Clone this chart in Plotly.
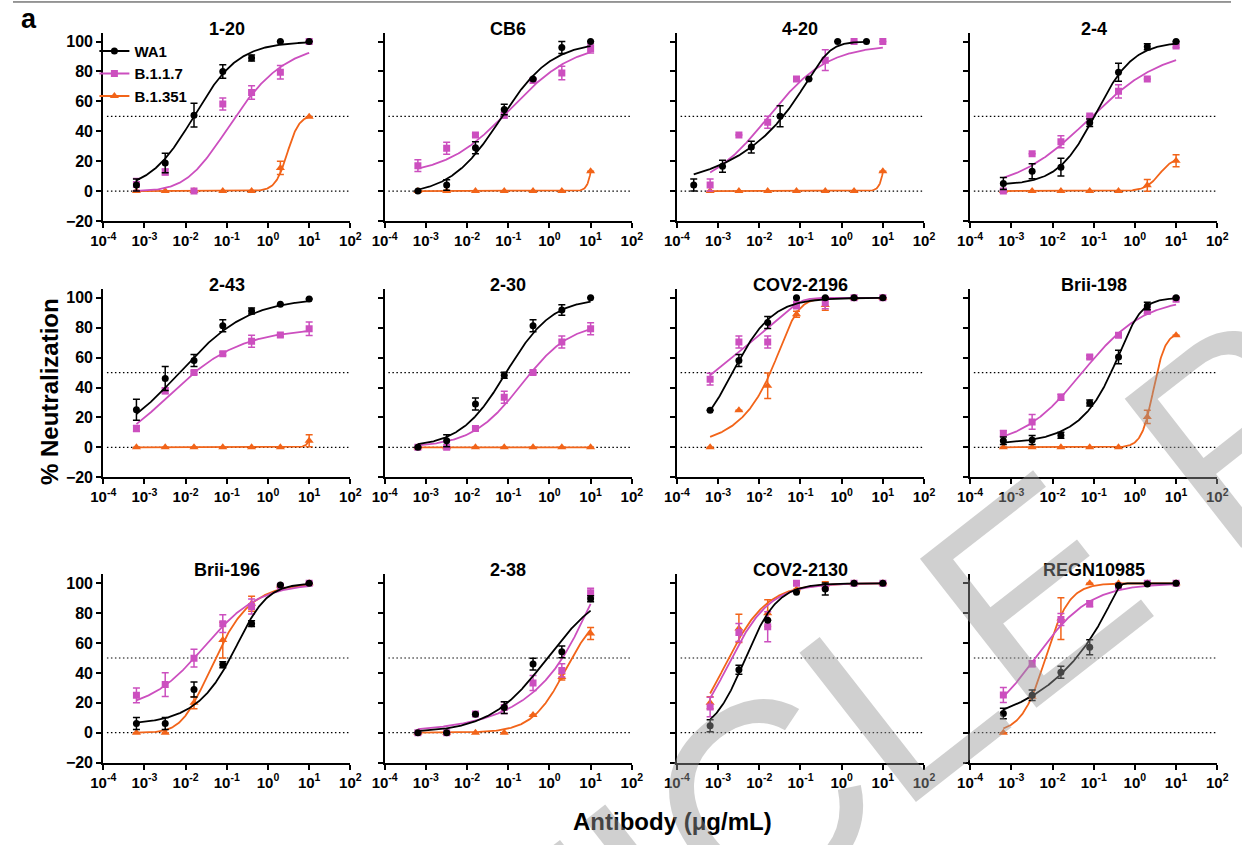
import numpy as np
import plotly.graph_objects as go

W, H = 1242, 845
FONT = "Liberation Sans, Arial, Helvetica, sans-serif"

CONC = [0.00064, 0.0032, 0.016, 0.08, 0.4, 2, 10]
CONC_420_WA1 = [0.000256, 0.00128, 0.0064, 0.032, 0.16, 0.8, 4]

PANELS = ["1-20", "CB6", "4-20", "2-4", "2-43", "2-30", "COV2-2196", "Brii-198",
          "Brii-196", "2-38", "COV2-2130", "REGN10985"]
SERIES = ["WA1", "B.1.1.7", "B.1.351"]
COLORS = ["#000000", "#CC4FBF", "#F26419"]
SYMBOLS = ["circle", "square", "triangle-up"]
MSIZE = [7, 7, 8]

XTICK_VALS = [1e-4, 1e-3, 1e-2, 1e-1, 1e0, 1e1, 1e2]
XTICK_TEXT = ["10<sup>-4</sup>", "10<sup>-3</sup>", "10<sup>-2</sup>", "10<sup>-1</sup>",
              "10<sup>0</sup>", "10<sup>1</sup>", "10<sup>2</sup>"]
YTICK_VALS = [-20, 0, 20, 40, 60, 80, 100]

# ---- measured values (% neutralization) ----
wa1_y = [
    [4, 18.8, 50.8, 80, 89, 100, 100],
    [0, 4, 29, 54.5, 75, 96, 100],
    [4, 16.6, 29.4, 50, 75, 100, 100],
    [5, 13.2, 16, 45.7, 79.5, 96.5, 100],
    [25.1, 46, 58.1, 81.3, 91.2, 95.8, 99.3],
    [0, 4.4, 29, 48.2, 81.3, 91.9, 100],
    [24.7, 58.1, 83.5, 100, 100, 100, 100],
    [4.4, 4.8, 8.1, 29.7, 60.4, 94.5, 100],
    [6.2, 6.2, 28.9, 45.5, 73, 98.9, 100],
    [0, 0, 12.4, 16.8, 45.9, 54.1, 89.6],
    [4.6, 42.2, 75.3, 94, 96.2, 100, 100],
    [12.8, 25, 40.4, 57.2, 98.5, 99.6, 100],
]
wa1_err = [
    [4, 6.5, 8, 4.5, 2, 0, 0],
    [0, 3.5, 4, 3.5, 0, 4, 0],
    [4, 4, 4, 7, 0, 0, 0],
    [4, 5, 6, 2.5, 6, 2, 0],
    [7, 8, 4, 4, 2, 0, 0],
    [0, 4, 4, 2, 4, 3.5, 0],
    [0, 4, 4, 0, 0, 0, 0],
    [2.5, 3, 2, 2, 4.5, 2.5, 0],
    [4, 4, 5, 2, 2, 0, 0],
    [0, 0, 0, 4, 4, 4, 2],
    [4, 3, 0, 0, 4, 0, 0],
    [3.5, 3.5, 4, 5, 0, 0, 0],
]
b117_y = [
    [4.4, 12.8, 0, 58.3, 66, 79.5, 100],
    [17, 28.7, 37.5, 50.8, 74, 79, 95.4],
    [4, 37.5, 46, 75, 87.6, 100, 100],
    [0, 25, 33, 50.3, 66.7, 75, 97],
    [12.6, 37.9, 50, 62.6, 71, 75.1, 79.3],
    [0, 0, 12.6, 33.5, 50, 70.5, 79.3],
    [45.6, 70.5, 70.5, 95.2, 96.7, 100, 100],
    [9.3, 17, 33.5, 60.4, 75, 91.2, 99],
    [25, 32.2, 49.9, 73, 84.5, 98, 100],
    [0, 0, 12.6, 16.8, 33.3, 41.7, 93.6],
    [17.2, 67.1, 70.9, 100, 97.4, 100, 100],
    [25.2, 46.1, 75.7, 86.3, 98, 100, 100],
]
b117_err = [
    [4, 2, 0, 4, 4.5, 4.5, 0],
    [4, 4, 1, 2, 0, 4.5, 3],
    [4, 0, 4, 0, 7, 0, 0],
    [0, 0, 4, 0, 4.5, 0, 1],
    [2, 2, 1, 1, 4, 1, 4.5],
    [0, 0, 1, 4, 1, 4, 4],
    [4, 4, 4, 2.5, 4, 0, 0],
    [2, 5, 2, 1, 1, 2, 0],
    [5, 8, 6, 6, 5, 0, 0],
    [0, 0, 0, 4, 5, 4.5, 3],
    [6.5, 6, 10, 0, 1, 0, 0],
    [5, 2, 4, 2, 0, 0, 0],
]
b1351_y = [
    [0, 0, 0, 0, 0, 15.5, 49.7],
    [0, 0, 0, 0, 0, 0, 13.2],
    [0, 0, 0, 0, 0, 0, 13.2],
    [0, 0, 0, 0, 0, 3.8, 20.3],
    [0, 0, 0, 0, 0, 0, 4.4],
    [0, 0, 0, 0, 0, 0, 0],
    [0, 24.7, 41.2, 89, 95.2, 100, 100],
    [0, 0, 0, 0, 0, 20.3, 75],
    [0, 0, 20.1, 62, 86.3, 98.5, 100],
    [0, 0, 0, 0, 11.9, 37.3, 66.4],
    [20.1, 69.8, 80, 96, 99, 100, 100],
    [0, 24, 76.4, 100, 100, 100, 100],
]
b1351_err = [
    [0, 0, 0, 0, 0, 4.4, 0],
    [0, 0, 0, 0, 0, 0, 0],
    [0, 0, 0, 0, 0, 0, 0],
    [0, 0, 0, 0, 0, 4, 4],
    [0, 0, 0, 0, 0, 0, 4],
    [0, 0, 0, 0, 0, 0, 0],
    [0, 0, 8.5, 2, 3.5, 0, 0],
    [0, 0, 0, 0, 0, 4.4, 0],
    [0, 0, 4, 12, 5, 0, 0],
    [0, 0, 0, 0, 0, 2, 4],
    [4, 9.5, 9, 0, 2, 0, 0],
    [0, 0, 14, 0, 0, 0, 0],
]

# ---- fitted dose-response parameters: [bottom, top, logEC50, hill, asymmetry] ----
wa1_fit = [
    [0, 100, -1.8, 0.8, 1], [-3, 100, -1.18, 0.7, 1], [0, 100, -0.42, 2, 0.15],
    [4, 100, -0.95, 0.95, 1], [0, 100, -2.15, 0.52, 1], [0, 100, -1.05, 0.78, 1],
    [0, 100, -2.65, 0.9, 1], [2, 100, -0.12, 1.8, 0.35], [5, 100, -0.5, 1.3, 0.5],
    [0, 100, -0.05, 0.62, 1], [-2, 100, -2.35, 1.1, 1], [0, 100, -0.38, 8, 0.036],
]
b117_fit = [
    [0, 100, -2.1, 0.55, 4], [10, 100, -0.95, 0.55, 1], [0, 98, -1.8, 0.6, 1],
    [0, 96, -1.12, 0.48, 1], [0, 80, -3.5, 0.45, 3], [0, 84, -0.68, 0.72, 1],
    [-200, 100, -1.0, 3, 0.0125], [0, 100, -1.28, 0.58, 1], [15, 100, -1.55, 0.65, 1],
    [0, 100, 1.12, 3, 0.125], [0, 100, -3.15, 0.8, 2], [0, 100, -2.42, 0.65, 1],
]
b1351_fit = [
    [0, 51, 0.47, 3, 1], [0, 100, 1.14, 6, 1], [0, 100, 1.14, 6, 1],
    [0, 23, 0.6, 2.5, 1], [0, 100, 1.22, 6, 1], [0, 0, 0, 1, 1],
    [0, 100, -1.24, 2.2, 0.27], [0, 77, 0.45, 3, 1], [0, 100, -2.18, 0.8, 4],
    [0, 85, 0.4, 1.05, 1], [0, 100, -3.22, 0.8, 2], [0, 100, -2.17, 1.5, 1],
]

# ---- layout geometry (pixels) ----
COL_X0 = [92, 379, 677, 976]
AX_W = 252
ROW_TOP = [33, 292, 580.5]
AX_H = 190.3


def curve(p, xmin, xmax):
    b, t, c, h, s = p
    lx = np.linspace(np.log10(xmin), np.log10(xmax), 300)
    y = b + (t - b) / (1.0 + 10.0 ** ((c - lx) * h)) ** s
    return 10.0 ** lx, y


fig = go.Figure()

# legend entries
for k in range(3):
    fig.add_trace(go.Scatter(x=[None], y=[None], mode="lines+markers", name=SERIES[k],
                             legendgroup=SERIES[k],
                             line=dict(color=COLORS[k], width=2),
                             marker=dict(symbol=SYMBOLS[k], size=MSIZE[k], color=COLORS[k]),
                             xaxis="x", yaxis="y", showlegend=True))

annotations = []
shapes = []
layout_axes = {}

for i, name in enumerate(PANELS):
    r, cidx = divmod(i, 4)
    sfx = "" if i == 0 else str(i + 1)
    xa, ya = "x" + sfx, "y" + sfx
    x0 = COL_X0[cidx]
    top = ROW_TOP[r]
    xd = [x0 / W, (x0 + AX_W) / W]
    yd = [1 - (top + AX_H) / H, 1 - top / H]

    layout_axes["xaxis" + sfx] = dict(
        domain=xd, anchor=ya, type="log", range=[-4, 2],
        tickvals=XTICK_VALS, ticktext=XTICK_TEXT, ticks="outside", ticklen=5, tickwidth=2,
        tickcolor="black", showline=True, linewidth=2, linecolor="black",
        showgrid=False, zeroline=False,
        tickfont=dict(family=FONT, size=15, color="black", weight="bold"))
    layout_axes["yaxis" + sfx] = dict(
        domain=yd, anchor=xa, range=[-20, 106], tickvals=YTICK_VALS,
        ticks="outside", ticklen=5, tickwidth=2, tickcolor="black",
        showline=True, linewidth=2, linecolor="black", showgrid=False, zeroline=False,
        showticklabels=(cidx == 0),
        tickfont=dict(family=FONT, size=16, color="black", weight="bold"))

    for yv in (50, 0):
        shapes.append(dict(type="line", xref=xa + " domain", yref=ya, x0=0.015, x1=1,
                           y0=yv, y1=yv, line=dict(color="black", width=1.2, dash="1.5px,2.5px"),
                           layer="below"))

    annotations.append(dict(text=name, xref="paper", yref="paper",
                            x=(x0 + AX_W / 2) / W, y=1 - (top - 4) / H,
                            xanchor="center", yanchor="middle", showarrow=False,
                            font=dict(family=FONT, size=18, color="black", weight="bold")))

    data = [
        (wa1_y[i], wa1_err[i], wa1_fit[i], CONC_420_WA1 if name == "4-20" else CONC),
        (b117_y[i], b117_err[i], b117_fit[i], CONC),
        (b1351_y[i], b1351_err[i], b1351_fit[i], CONC),
    ]
    for k in (2, 1, 0):
        yv, ev, fp, xs = data[k]
        cx, cy = curve(fp, min(xs), max(xs))
        fig.add_trace(go.Scatter(x=cx, y=cy, mode="lines", xaxis=xa, yaxis=ya,
                                 line=dict(color=COLORS[k], width=1.8), showlegend=False,
                                 hoverinfo="skip"))
        fig.add_trace(go.Scatter(x=xs, y=yv, mode="markers", xaxis=xa, yaxis=ya,
                                 marker=dict(symbol=SYMBOLS[k], size=MSIZE[k], color=COLORS[k]),
                                 error_y=dict(type="data", array=ev, visible=True, color=COLORS[k],
                                              thickness=1.5, width=3.5),
                                 showlegend=False, name=SERIES[k]))

annotations += [
    dict(text="a", xref="paper", yref="paper", x=16 / W, y=1 - 19 / H, xanchor="center",
         yanchor="middle", showarrow=False,
         font=dict(family=FONT, size=27, color="black", weight="bold")),
    dict(text="% Neutralization", xref="paper", yref="paper", x=38 / W, y=1 - 396 / H,
         xanchor="center", yanchor="middle", textangle=-90, showarrow=False,
         font=dict(family=FONT, size=24, color="black", weight="bold")),
    dict(text="Antibody (μg/mL)", xref="paper", yref="paper", x=672 / W, y=1 - 830 / H,
         xanchor="center", yanchor="middle", showarrow=False,
         font=dict(family=FONT, size=24, color="black", weight="bold")),
    dict(text="ARTICLE PREVIEW", xref="paper", yref="paper", x=1190 / W, y=1 - 480 / H,
         xanchor="center", yanchor="middle", textangle=-38, showarrow=False,
         font=dict(family=FONT, size=275, color="rgba(150,150,150,0.45)")),
]
shapes.append(dict(type="line", xref="paper", yref="paper", x0=0, x1=1, y0=1 - 2 / H,
                   y1=1 - 2 / H, line=dict(color="#333333", width=1)))

fig.update_layout(
    width=W, height=H, margin=dict(l=0, r=0, t=0, b=0),
    paper_bgcolor="white", plot_bgcolor="white",
    showlegend=True,
    legend=dict(x=83 / W, y=1 - 35 / H, xanchor="left", yanchor="top",
                bgcolor="rgba(0,0,0,0)", itemwidth=30, tracegroupgap=0,
                font=dict(family=FONT, size=15, color="black", weight="bold")),
    annotations=annotations, shapes=shapes,
    **layout_axes,
)

fig.write_html("out.html")
